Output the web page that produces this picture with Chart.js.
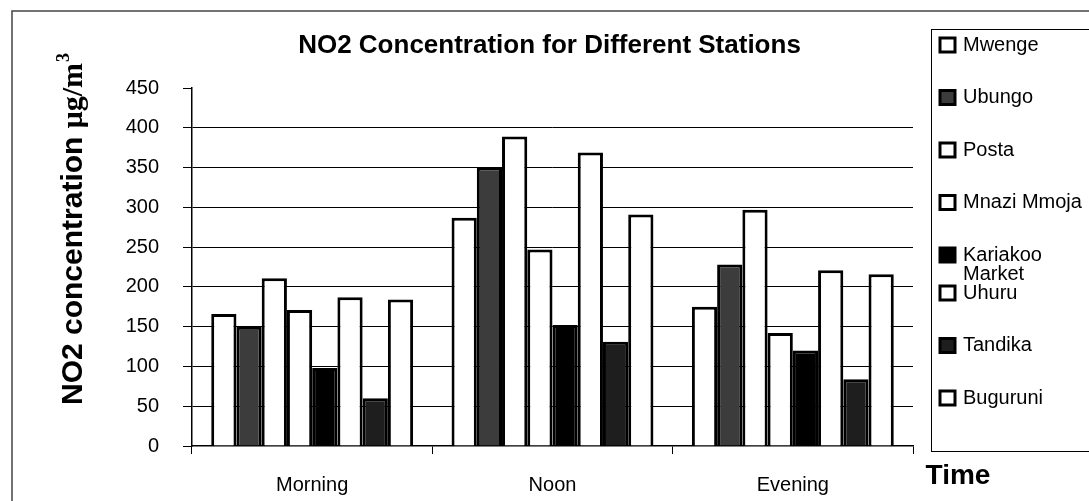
<!DOCTYPE html>
<html lang="en">
<head>
  <meta charset="UTF-8">
  <title>NO2 Concentration for Different Stations</title>
  <script src="https://cdn.jsdelivr.net/npm/chart.js"></script>
  <style>
    body { margin: 0; background: #fff; }
    #wrap { position: relative; width: 1089px; height: 501px; }
  </style>
</head>
<body>
  <div id="wrap"><canvas id="no2Chart"></canvas></div>

  <script>
    const times = ['Morning', 'Noon', 'Evening'];
    const stations = ['Mwenge', 'Ubungo', 'Posta', 'Mnazi Mmoja', 'Kariakoo Market', 'Uhuru', 'Tandika', 'Buguruni'];
    const mwenge = [166, 287, 175];
    const ubungo = [150, 350, 228];
    const posta = [211, 389, 297];
    const mnaziMmoja = [171, 247, 142];
    const kariakoo = [98, 152, 120];
    const uhuru = [187, 369, 221];
    const tandika = [60, 131, 84];
    const buguruni = [184, 291, 216];
    const yTicks = [0, 50, 100, 150, 200, 250, 300, 350, 400, 450];

    const seriesValues = [mwenge, ubungo, posta, mnaziMmoja, kariakoo, uhuru, tandika, buguruni];
    const fills = ['#fff', '#3c3c3c', '#fff', '#fff', '#000', '#fff', '#1e1e1e', '#fff'];
    const SANS = 'Arial, "Liberation Sans", sans-serif';
    const SERIF = '"Times New Roman", "Liberation Serif", serif';

    // titles, outer frame and legend box drawn by hand
    const extras = {
      id: 'extras',
      beforeDraw(chart) {
        const ctx = chart.ctx;
        ctx.save();
        ctx.fillStyle = '#fff';
        ctx.fillRect(0, 0, chart.width, chart.height);
        ctx.strokeStyle = '#444';
        ctx.lineWidth = 1.5;
        ctx.beginPath();
        ctx.moveTo(12, chart.height + 5);
        ctx.lineTo(12, 11);
        ctx.lineTo(chart.width + 5, 11);
        ctx.stroke();
        ctx.restore();
      },
      afterDraw(chart) {
        const ctx = chart.ctx;
        const area = chart.chartArea;
        ctx.save();
        ctx.fillStyle = '#000';

        // main title
        ctx.font = 'bold 26px ' + SANS;
        ctx.textAlign = 'center';
        ctx.textBaseline = 'middle';
        ctx.fillText('NO2 Concentration for Different Stations', (area.left + area.right) / 2 - 3, 46);

        // x title
        ctx.font = 'bold 28px ' + SANS;
        ctx.fillText('Time', 958, 476);

        // y title, rotated, mixed fonts
        ctx.save();
        ctx.translate(82, 405);
        ctx.rotate(-Math.PI / 2);
        ctx.textAlign = 'left';
        ctx.textBaseline = 'alphabetic';
        ctx.font = 'bold 30px ' + SANS;
        const part1 = 'NO2 concentration ';
        ctx.fillText(part1, 0, 0);
        let x = ctx.measureText(part1).width;
        ctx.font = 'bold 30px ' + SERIF;
        ctx.fillText('\u03bcg/m', x, 0);
        x += ctx.measureText('\u03bcg/m').width;
        ctx.font = 'bold 18px ' + SERIF;
        ctx.fillText('3', x + 1, -13);
        ctx.restore();

        // legend
        ctx.strokeStyle = '#000';
        ctx.lineWidth = 1;
        ctx.strokeRect(931.5, 29.5, 200, 422);
        ctx.font = '20px ' + SANS;
        ctx.textAlign = 'left';
        ctx.textBaseline = 'middle';
        let y = 45;
        chart.data.datasets.forEach(ds => {
          ctx.fillStyle = ds.backgroundColor;
          ctx.fillRect(940, y - 7, 15, 14);
          ctx.lineWidth = 3;
          ctx.strokeRect(940, y - 7, 15, 14);
          ctx.fillStyle = '#000';
          // wrap long names
          const words = ds.label.split(' ');
          const lines = [];
          let line = '';
          words.forEach(w => {
            const test = line ? line + ' ' + w : w;
            if (line && ctx.measureText(test).width > 124) { lines.push(line); line = w; }
            else line = test;
          });
          lines.push(line);
          lines.forEach((l, i) => ctx.fillText(l, 963, y + i * 19));
          y += lines.length > 1 ? 38 : 52.5;
        });
        ctx.restore();
      }
    };

    new Chart(document.getElementById('no2Chart'), {
      type: 'bar',
      data: {
        labels: times,
        datasets: stations.map((name, i) => ({
          label: name,
          data: seriesValues[i],
          backgroundColor: fills[i],
          borderColor: '#000',
          borderWidth: 3,
          barPercentage: 1,
          categoryPercentage: 0.84
        }))
      },
      options: {
        responsive: true,
        maintainAspectRatio: false,
        animation: false,
        layout: { padding: { left: 0, top: 88, right: 176, bottom: 0 } },
        plugins: {
          legend: { display: false },
          title: { display: false },
          tooltip: { enabled: false }
        },
        scales: {
          x: {
            afterFit(scale) { scale.height = 55; },
            grid: { drawOnChartArea: false, color: '#000', tickLength: 8 },
            border: { color: '#000', width: 1.5 },
            ticks: { color: '#000', padding: 19, font: { family: SANS, size: 20 } }
          },
          y: {
            min: 0,
            max: 450,
            afterFit(scale) { scale.width = 192; },
            afterBuildTicks(scale) { scale.ticks = yTicks.map(v => ({ value: v })); },
            grid: {
              color: ctx => ctx.tick && (ctx.tick.value === 450 || ctx.tick.value === 0) ? 'rgba(0,0,0,0)' : '#000',
              tickColor: '#000',
              tickLength: 9,
              lineWidth: 1
            },
            border: { color: '#000', width: 1.5 },
            ticks: { color: '#000', padding: 24, font: { family: SANS, size: 20 } }
          }
        }
      },
      plugins: [extras]
    });
  </script>
</body>
</html>
